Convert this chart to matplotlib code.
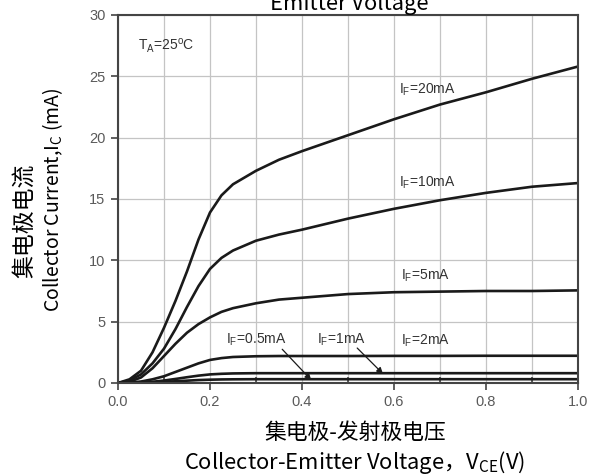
import matplotlib
matplotlib.use("Agg")
import matplotlib.pyplot as plt
import numpy as np

# V_CE (V) sample points
vce = [0.0, 0.025, 0.05, 0.075, 0.1, 0.125, 0.15, 0.175, 0.2, 0.225,
       0.25, 0.3, 0.35, 0.4, 0.5, 0.6, 0.7, 0.8, 0.9, 1.0]

# I_C (mA) for each forward current
ic_20 = [0, 0.3, 1.0, 2.5, 4.5, 6.7, 9.1, 11.7, 13.9, 15.3,
         16.2, 17.3, 18.2, 18.9, 20.2, 21.5, 22.7, 23.7, 24.8, 25.8]
ic_10 = [0, 0.2, 0.7, 1.6, 2.8, 4.4, 6.2, 7.9, 9.3, 10.2,
         10.8, 11.6, 12.1, 12.5, 13.4, 14.2, 14.9, 15.5, 16.0, 16.3]
ic_5 = [0, 0.1, 0.45, 1.2, 2.2, 3.2, 4.1, 4.8, 5.35, 5.8,
        6.1, 6.5, 6.8, 6.95, 7.25, 7.4, 7.45, 7.5, 7.5, 7.55]
ic_2 = [0, 0.03, 0.12, 0.3, 0.55, 0.9, 1.25, 1.6, 1.88, 2.03,
        2.12, 2.18, 2.2, 2.2, 2.2, 2.21, 2.21, 2.22, 2.22, 2.22]
ic_1 = [0, 0.01, 0.04, 0.1, 0.2, 0.33, 0.47, 0.6, 0.7, 0.75,
        0.78, 0.8, 0.8, 0.8, 0.8, 0.8, 0.8, 0.8, 0.8, 0.8]
ic_05 = [0, 0.005, 0.02, 0.05, 0.09, 0.14, 0.19, 0.24, 0.27, 0.29,
         0.3, 0.31, 0.31, 0.31, 0.31, 0.31, 0.31, 0.31, 0.31, 0.31]

CURVES = [ic_20, ic_10, ic_5, ic_2, ic_1, ic_05]
CJK = ['Noto Sans CJK SC', 'DejaVu Sans']
LABEL_FONT = ['Liberation Sans', 'DejaVu Sans']
TICK_COLOR = "#5a5a5a"

fig = plt.figure(figsize=(5.96, 4.75), dpi=100)
ax = fig.add_axes([118/596, 1 - 383/475, 460/596, 368/475])

for ic in CURVES:
    ax.plot(vce, ic, color="#1a1a1a", lw=1.9, solid_capstyle='round')

ax.set_xlim(0, 1.0)
ax.set_ylim(0, 30)
ax.set_xticks(np.arange(0, 1.01, 0.2))
ax.set_xticks(np.arange(0.1, 1.0, 0.2), minor=True)
ax.set_yticks(range(0, 31, 5))
ax.grid(True, which='both', axis='x', color="#c4c4c4", lw=0.9)
ax.grid(True, which='major', axis='y', color="#c4c4c4", lw=0.9)
ax.set_axisbelow(True)
ax.set_xticklabels([f"{v:.1f}" for v in np.arange(0, 1.01, 0.2)])

for sp in ax.spines.values():
    sp.set_color("#444444")
    sp.set_linewidth(1.5)

ax.tick_params(which='major', direction='out', length=5, width=1.2,
               color="#444444", labelcolor=TICK_COLOR, labelsize=10.5, pad=4)
ax.tick_params(axis='x', which='minor', direction='in', length=4, width=1.2,
               color="#444444")
for lab in ax.get_xticklabels() + ax.get_yticklabels():
    lab.set_fontfamily(LABEL_FONT)

# curve labels
lab_kw = dict(fontsize=10, color="#333333", family=LABEL_FONT, va='center')
ax.text(0.61, 23.9, r"I$_\mathregular{F}$=20mA", **lab_kw)
ax.text(0.61, 16.3, r"I$_\mathregular{F}$=10mA", **lab_kw)
ax.text(0.615, 8.7, r"I$_\mathregular{F}$=5mA", **lab_kw)
ax.text(0.615, 3.4, r"I$_\mathregular{F}$=2mA", **lab_kw)
ax.text(0.433, 3.5, r"I$_\mathregular{F}$=1mA", **lab_kw)
ax.text(0.235, 3.5, r"I$_\mathregular{F}$=0.5mA", **lab_kw)
ax.text(0.043, 27.5, r"T$_\mathregular{A}$=25$^\mathregular{o}$C", **lab_kw)

arrow_kw = dict(arrowstyle='-|>', color="#1a1a1a", lw=0.9,
                mutation_scale=9, shrinkA=0, shrinkB=0)
ax.annotate("", xy=(0.42, 0.25), xytext=(0.357, 2.75), arrowprops=arrow_kw)
ax.annotate("", xy=(0.576, 0.75), xytext=(0.52, 2.85), arrowprops=arrow_kw)

# axis labels
fig.text(24/596, 1 - 221/475, "集电极电流", rotation=90, fontsize=16.5,
         family=CJK, ha='center', va='center')
fig.text(53/596, 1 - 200/475, r"Collector Current,I$_\mathregular{C}$ (mA)",
         rotation=90, fontsize=14, family=CJK, ha='center', va='center')
fig.text(355/596, 1 - 433/475, "集电极-发射极电压", fontsize=15.7,
         family=CJK, ha='center', va='center')
fig.text(355/596, 1 - 463/475,
         r"Collector-Emitter Voltage，V$_\mathregular{CE}$(V)",
         fontsize=15.8, family=CJK, ha='center', va='center')

# clipped title remnant at the top edge
fig.text(270/596, 1 - 10/475, "Emitter Voltage", fontsize=15.8,
         family=CJK, ha='left', va='baseline')

plt.savefig("out.png", dpi=100)
plt.close('all')
